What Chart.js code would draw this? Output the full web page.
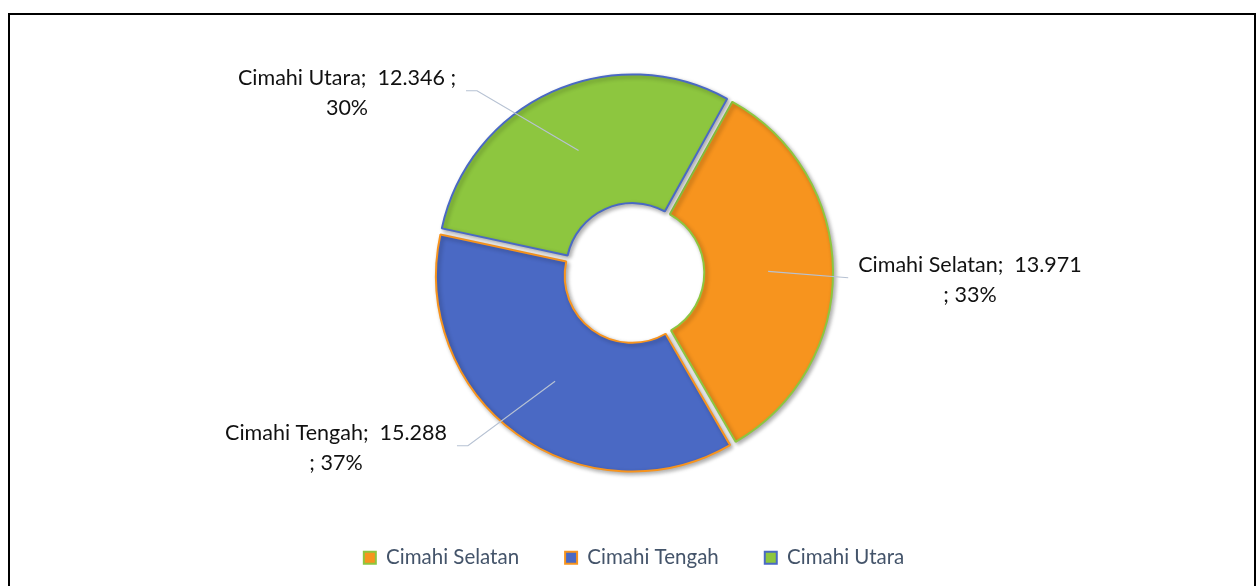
<!DOCTYPE html>
<html><head><meta charset="utf-8">
<script src="https://cdn.jsdelivr.net/npm/chart.js@4.4.1/dist/chart.umd.min.js"></script>
<style>
html,body{margin:0;padding:0;background:#fff;width:1257px;height:586px;overflow:hidden}
#frame{position:absolute;left:8px;top:13px;width:1248px;height:600px;border:2px solid #000;box-sizing:border-box}
#wrap{position:absolute;left:0;top:0;width:1257px;height:586px}
</style></head><body>
<div id="frame"></div>
<div id="wrap"><canvas id="c"></canvas></div>
<script>
const categories = ['Cimahi Selatan', 'Cimahi Tengah', 'Cimahi Utara'];
const values = [13971, 15288, 12346];
const valueLabels = ['13.971', '15.288', '12.346'];
const percentLabels = ['33%', '37%', '30%'];
const fillColors = ['#F7941E', '#4A69C4', '#8DC63F'];
const borderColors = ['#8DC63F', '#F7941E', '#4A69C4'];

// label placement (offset of label block centre from the doughnut centre)
const labelLayout = [
  {dx: 336, dy: 7, side: 'right'},
  {dx: -298, dy: 175, side: 'left'},
  {dx: -287, dy: -180, side: 'left'}
];
const LABEL_FONT = '21.5px Lato';
const LABEL_WRAP = 229;
const LINE_H = 30;

function wrapText(ctx, text, maxW) {
  const words = text.split(' ');
  const lines = [];
  let cur = '';
  for (const w of words) {
    const test = cur === '' ? w : cur + ' ' + w;
    if (cur !== '' && ctx.measureText(test).width > maxW) {
      lines.push(cur);
      cur = w;
    } else cur = test;
  }
  if (cur !== '') lines.push(cur);
  return lines;
}

const shadowPlugin = {
  id: 'shadow',
  beforeDatasetsDraw(chart) {
    const ctx = chart.ctx;
    ctx.save();
    ctx.shadowColor = 'rgba(0,0,0,0.32)';
    ctx.shadowBlur = 4;
    ctx.shadowOffsetX = 2;
    ctx.shadowOffsetY = 2;
  },
  afterDatasetsDraw(chart) { chart.ctx.restore(); }
};

const labelPlugin = {
  id: 'sliceLabels',
  afterDatasetsDraw(chart) {
    const ctx = chart.ctx;
    const meta = chart.getDatasetMeta(0);
    ctx.save();
    ctx.font = LABEL_FONT;
    meta.data.forEach((arc, i) => {
      const p = arc.getProps(['x', 'y', 'startAngle', 'endAngle', 'innerRadius', 'outerRadius'], true);
      const off = (arc.options.offset || 0) / 4;
      const mid = (p.startAngle + p.endAngle) / 2;
      const rm = (p.innerRadius + p.outerRadius) / 2 + off;
      const ax = p.x + Math.cos(mid) * rm;
      const ay = p.y + Math.sin(mid) * rm;
      const L = labelLayout[i];
      const cx = p.x + L.dx, cy = p.y + L.dy;
      const text = categories[i] + ';  ' + valueLabels[i] + ' ; ' + percentLabels[i];
      const lines = wrapText(ctx, text, LABEL_WRAP);
      let maxW = 0;
      lines.forEach(l => { maxW = Math.max(maxW, ctx.measureText(l).width); });
      const boxTop = cy - lines.length * LINE_H / 2;
      let ex, elx;
      if (L.side === 'right') { ex = cx - maxW / 2 - 10; elx = ex - 11; }
      else { ex = cx + maxW / 2 + 10; elx = ex + 11; }
      ctx.strokeStyle = '#B7C2D3';
      ctx.lineWidth = 1.2;
      ctx.beginPath();
      ctx.moveTo(ax, ay);
      if (L.side === 'right') { ctx.lineTo(ex, cy - 2); }
      else { ctx.lineTo(elx, cy - 2); ctx.lineTo(ex, cy - 2); }
      ctx.stroke();
      ctx.fillStyle = '#111';
      ctx.textAlign = 'center';
      ctx.textBaseline = 'middle';
      lines.forEach((l, k) => ctx.fillText(l, cx, boxTop + LINE_H * (k + 0.5)));
    });
    ctx.restore();
  }
};

new Chart(document.getElementById('c'), {
  type: 'doughnut',
  data: {
    labels: categories,
    datasets: [{
      data: values,
      backgroundColor: fillColors,
      borderColor: borderColors,
      borderWidth: 2,
      offset: 14,
      hoverOffset: 0
    }]
  },
  options: {
    responsive: true,
    maintainAspectRatio: false,
    animation: false,
    rotation: 29,
    radius: 195,
    cutout: '34%',
    layout: {padding: {left: 11, right: 0, top: 44, bottom: 8}},
    plugins: {
      tooltip: {enabled: false},
      legend: {
        position: 'bottom',
        labels: {
          font: {family: 'Lato', size: 20.5},
          color: '#44546A',
          boxWidth: 12,
          boxHeight: 12,
          padding: 46
        }
      }
    }
  },
  plugins: [shadowPlugin, labelPlugin]
});
</script>
</body></html>
